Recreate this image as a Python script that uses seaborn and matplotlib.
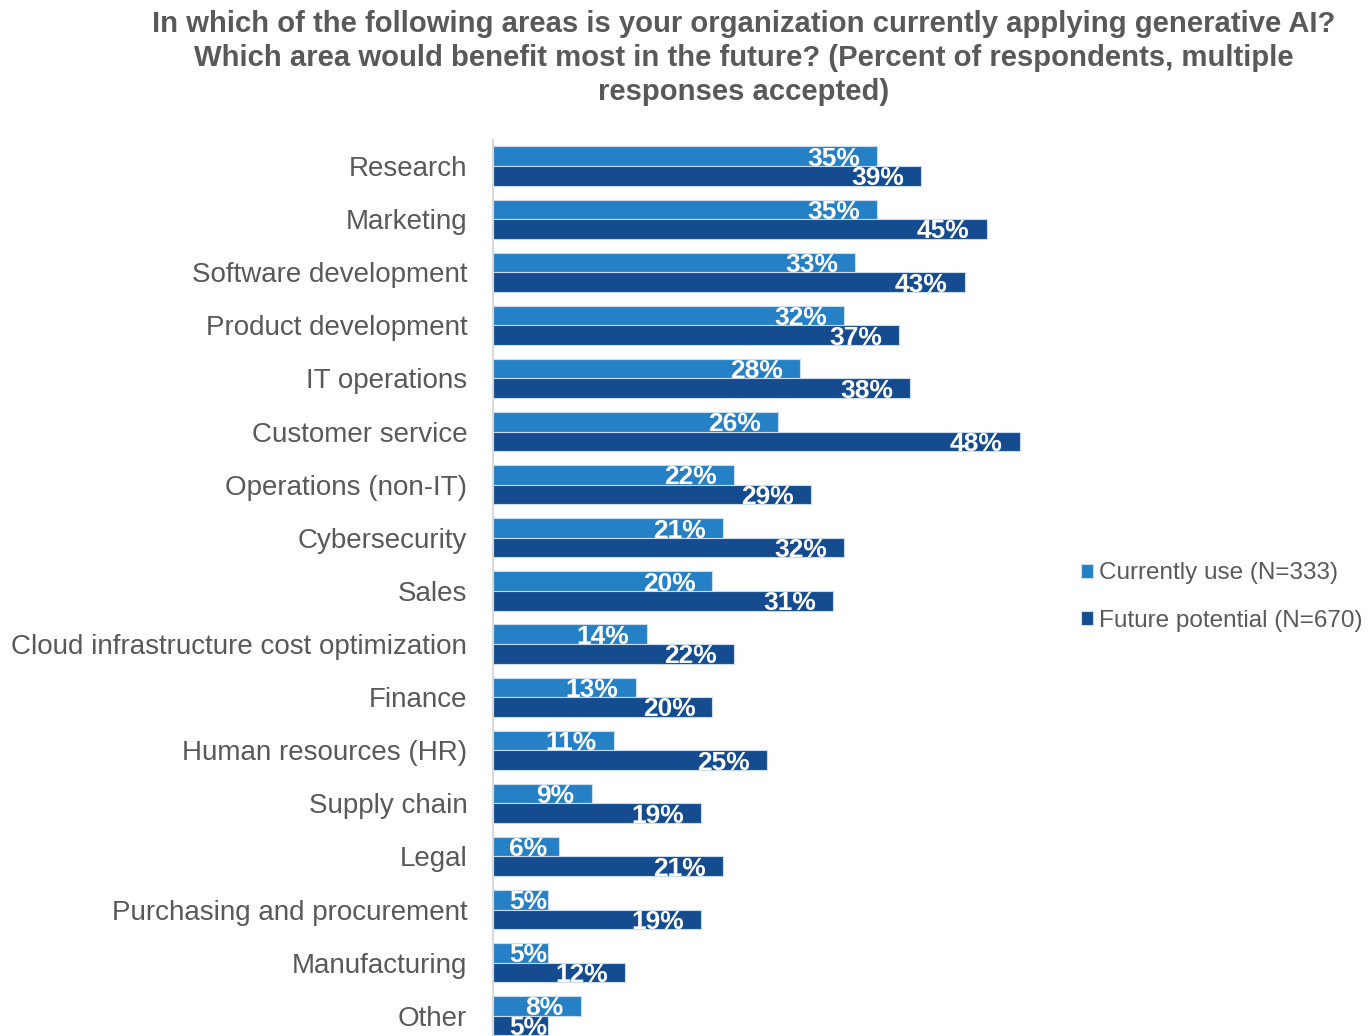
import matplotlib
matplotlib.use("Agg")
import matplotlib.pyplot as plt
import seaborn as sns
import pandas as pd

# Survey areas and shares of respondents (%)
areas = [
    "Research", "Marketing", "Software development", "Product development",
    "IT operations", "Customer service", "Operations (non-IT)", "Cybersecurity",
    "Sales", "Cloud infrastructure cost optimization", "Finance",
    "Human resources (HR)", "Supply chain", "Legal",
    "Purchasing and procurement", "Manufacturing", "Other",
]
currently_use = [35, 35, 33, 32, 28, 26, 22, 21, 20, 14, 13, 11, 9, 6, 5, 5, 8]
future_potential = [39, 45, 43, 37, 38, 48, 29, 32, 31, 22, 20, 25, 19, 21, 19, 12, 5]
series_names = ["Currently use (N=333)", "Future potential (N=670)"]
series_colors = ["#2580C6", "#154C8F"]

title = ("In which of the following areas is your organization currently applying generative AI?\n"
         "Which area would benefit most in the future? (Percent of respondents, multiple\n"
         "responses accepted)")

df = pd.DataFrame({
    "Area": areas * 2,
    "Series": [series_names[0]] * len(areas) + [series_names[1]] * len(areas),
    "Value": currently_use + future_potential,
})

sns.set_theme(style="white")
plt.rcParams["font.family"] = ["Liberation Sans", "DejaVu Sans"]

W, H = 1370, 1036
fig = plt.figure(figsize=(W / 100, H / 100), dpi=100)
px_per_unit = 10.97
ax_left = 493
ax_width = 60 * px_per_unit
ax_top = 139.5
ax = fig.add_axes([ax_left / W, 0, ax_width / W, 1 - ax_top / H])

sns.barplot(data=df, y="Area", x="Value", hue="Series", orient="h",
            palette=series_colors, saturation=1, width=0.74, ax=ax,
            edgecolor="#C9DCEF", linewidth=0.8, legend=True)

ax.set_xlim(0, 60)
ax.set_ylim(16.38, -0.5)
ax.set_xlabel("")
ax.set_ylabel("")
ax.set_xticks([])
ax.tick_params(axis="y", length=0, pad=18.5, labelsize=20, labelcolor="#595959")
for side in ["top", "right", "bottom"]:
    ax.spines[side].set_visible(False)
ax.spines["left"].set_color("#D9D9D9")
ax.spines["left"].set_linewidth(1.5)

# Value labels inside the bar ends; short bars keep the label near the axis
fig.canvas.draw()
renderer = fig.canvas.get_renderer()
for container, values in zip(ax.containers, [currently_use, future_potential]):
    for patch, v in zip(container.patches, values):
        yc = patch.get_y() + patch.get_height() / 2
        ann = ax.annotate(f"{v}%", xy=(v, yc), xytext=(-17, -9.5),
                          textcoords="offset pixels", ha="right", va="baseline",
                          color="white", fontsize=19, fontweight="bold")
        bb = ann.get_window_extent(renderer)
        x0_px = ax.transData.transform((0, yc))[0]
        min_left = x0_px + 16
        if bb.x0 < min_left:
            ann.set_position((-17 + (min_left - bb.x0), -9.5))

handles, labels = ax.get_legend_handles_labels()
ax.legend(handles, labels, loc="center left",
          bbox_to_anchor=(1081 / W, 1 - 597 / H), bbox_transform=fig.transFigure,
          frameon=False, fontsize=17.5, labelcolor="#595959",
          handlelength=0.5, handleheight=0.5, handletextpad=0.25,
          labelspacing=1.05, borderaxespad=0, borderpad=0)

fig.text(744 / W, 1 - 10 / H, title, ha="center", va="top", fontsize=21.1,
         fontweight="bold", color="#595959", linespacing=1.28)

fig.savefig("out.png", dpi=100)
